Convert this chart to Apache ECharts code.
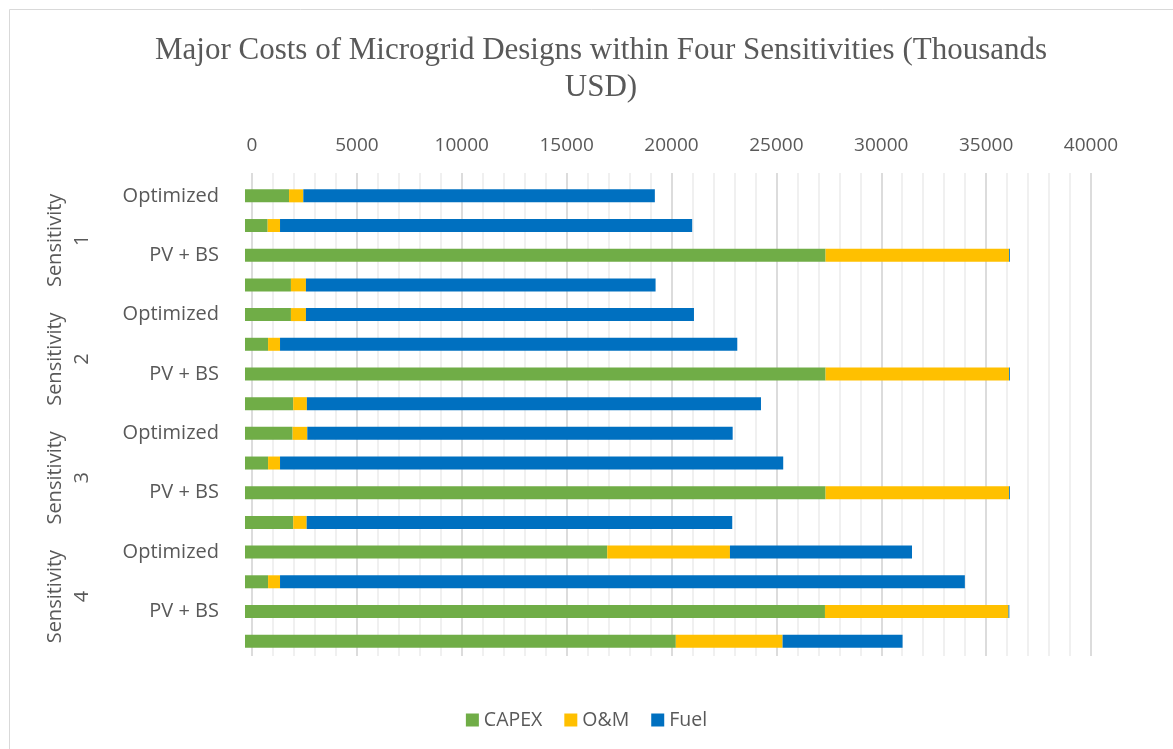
<!DOCTYPE html>
<html>
<head>
<meta charset="utf-8">
<script src="https://cdn.jsdelivr.net/npm/echarts@6/dist/echarts.min.js"></script>
<style>
html,body{margin:0;padding:0;background:#fff;}
#chart{width:1173px;height:749px;}
</style>
</head>
<body>
<div id="chart"></div>
<script>
// ---- data ----
const designs = ["Optimized", "Diesel Only", "PV + BS", "Existing"];
const sensitivities = ["Sensitivity\n1", "Sensitivity\n2", "Sensitivity\n3", "Sensitivity\n4"];
const categories = [].concat(designs, designs, designs, designs);
const capex = [2100, 1080, 27680, 2190, 2190, 1100, 27680, 2300, 2270, 1100, 27680, 2300, 17270, 1100, 27650, 20540];
const om    = [680, 590, 8750, 715, 715, 570, 8750, 650, 700, 570, 8750, 640, 5850, 570, 8750, 5090];
const fuel  = [16760, 19650, 40, 16670, 18500, 21800, 40, 21650, 20280, 23990, 40, 20290, 8680, 32650, 40, 5720];
const xTicks = { min: 0, max: 40000, interval: 5000 };
const seriesNames = ["CAPEX", "O&M", "Fuel"];
const colors = ["#70AD47", "#FFC000", "#0070C0"];

const textColor = "#595959";
const sansFont = "Open Sans";

const chart = echarts.init(document.getElementById('chart'));
const option = {
  animation: false,
  backgroundColor: '#fff',
  color: colors,
  title: {
    text: "Major Costs of Microgrid Designs within Four Sensitivities (Thousands\nUSD)",
    left: 596,
    top: 27,
    textAlign: 'center',
    textStyle: {
      fontFamily: "Liberation Serif",
      fontSize: 31,
      fontWeight: 'normal',
      color: textColor,
      lineHeight: 37
    }
  },
  graphic: [{
    type: 'rect',
    shape: { x: 9.5, y: 9.5, width: 1200, height: 760 },
    style: { fill: 'none', stroke: '#d9d9d9', lineWidth: 1 },
    silent: true,
    z: -10
  }],
  legend: {
    data: seriesNames,
    left: 'center',
    top: 705,
    icon: 'rect',
    itemWidth: 13,
    itemHeight: 13,
    itemGap: 22,
    textStyle: { fontFamily: sansFont, fontSize: 19.5, color: textColor }
  },
  grid: [
    { left: 252, right: 82, top: 173, bottom: 93 },
    { left: 245, right: 89, top: 181, bottom: 93 }
  ],
  xAxis: [
    {
      gridIndex: 0, type: 'value', position: 'top',
      min: xTicks.min, max: xTicks.max, interval: xTicks.interval,
      axisLine: { show: false }, axisTick: { show: false },
      axisLabel: { fontFamily: sansFont, fontSize: 19, color: textColor, margin: 18,
        formatter: function (v) { return String(v); } },
      splitLine: { show: true, lineStyle: { color: '#d0d0d0', width: 1.5 } },
      minorTick: { show: false, splitNumber: 5 },
      minorSplitLine: { show: true, lineStyle: { color: '#ececec', width: 1.5 } }
    },
    {
      gridIndex: 1, type: 'value', position: 'top',
      min: xTicks.min, max: xTicks.max, interval: xTicks.interval,
      show: false
    }
  ],
  yAxis: [
    { gridIndex: 0, type: 'value', min: 0, max: 1, show: false },
    {
      gridIndex: 1, type: 'category', inverse: true, data: categories,
      axisLine: { show: false }, axisTick: { show: false },
      axisLabel: { interval: 1, fontFamily: sansFont, fontSize: 20, color: textColor, margin: 26 }
    },
    {
      gridIndex: 1, type: 'category', inverse: true, data: sensitivities,
      position: 'left', offset: 141,
      axisLine: { show: false }, axisTick: { show: false },
      axisLabel: { interval: 0, rotate: 90, fontFamily: sansFont, fontSize: 20, color: textColor, margin: 8, lineHeight: 27, align: 'center' }
    }
  ],
  series: [
    { name: seriesNames[0], type: 'bar', stack: 'cost', xAxisIndex: 1, yAxisIndex: 1, barWidth: 13, data: capex, itemStyle: { color: colors[0] } },
    { name: seriesNames[1], type: 'bar', stack: 'cost', xAxisIndex: 1, yAxisIndex: 1, barWidth: 13, data: om, itemStyle: { color: colors[1] } },
    { name: seriesNames[2], type: 'bar', stack: 'cost', xAxisIndex: 1, yAxisIndex: 1, barWidth: 13, data: fuel, itemStyle: { color: colors[2] } }
  ]
};
chart.setOption(option);
</script>
</body>
</html>
